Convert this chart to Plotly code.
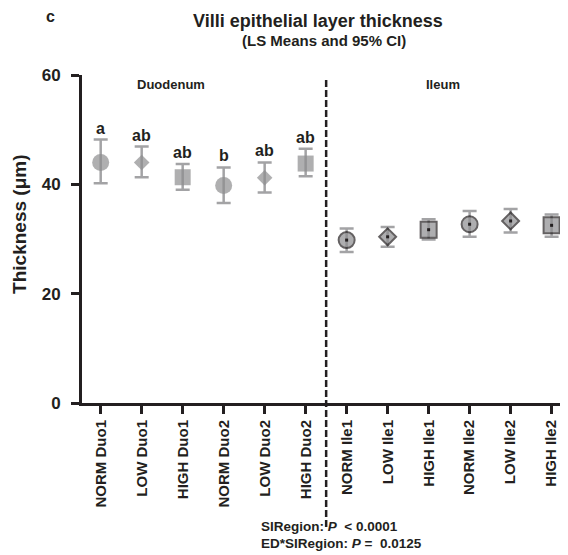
import plotly.graph_objects as go

categories = ["NORM Duo1", "LOW Duo1", "HIGH Duo1", "NORM Duo2", "LOW Duo2", "HIGH Duo2",
              "NORM Ile1", "LOW Ile1", "HIGH Ile1", "NORM Ile2", "LOW Ile2", "HIGH Ile2"]
means = [44.0, 44.0, 41.3, 39.8, 41.2, 43.8, 29.8, 30.4, 31.7, 32.7, 33.3, 32.5]
upper = [48.2, 46.9, 43.7, 43.1, 44.0, 46.5, 31.9, 32.2, 33.6, 35.1, 35.5, 34.5]
lower = [40.2, 41.3, 39.0, 36.6, 38.5, 41.5, 27.6, 28.6, 29.9, 30.4, 31.2, 30.4]
letters = ["a", "ab", "ab", "b", "ab", "ab"]
symbols = ["circle", "diamond", "square"] * 4

FONT = "Liberation Sans, Arial, sans-serif"
GRAY = "#8d8d8f"
EGRAY = "#a3a3a5"
BLACK = "#231f20"

fig = go.Figure()

duo = slice(0, 6)
ile = slice(6, 12)

def add_group(sl, outlined):
    x = categories[sl]
    m = means[sl]
    up = [u - v for u, v in zip(upper[sl], m)]
    dn = [v - l for v, l in zip(m, lower[sl])]
    sym = symbols[sl]
    sizes = [(17 if s == "circle" else 12 if s == "diamond" else 16) if not outlined
             else (16 if s == "circle" else 13 if s == "diamond" else 16) for s in sym]
    fig.add_trace(go.Scatter(
        x=x, y=m, mode="markers",
        marker=dict(symbol=sym, size=sizes, color=GRAY,
                    line=dict(color=BLACK, width=2 if outlined else 0)),
        error_y=dict(type="data", symmetric=False, array=up, arrayminus=dn,
                     color=EGRAY, thickness=2.5, width=7),
        showlegend=False, hoverinfo="skip"))
    if outlined:
        fig.add_trace(go.Scatter(
            x=x, y=m, mode="markers",
            marker=dict(symbol="square", size=3, color=BLACK, line=dict(width=0)),
            showlegend=False, hoverinfo="skip"))

add_group(duo, False)
add_group(ile, True)

# significance letters
for i, t in enumerate(letters):
    fig.add_annotation(x=categories[i], y=upper[i], text=t, showarrow=False,
                       xanchor="center", yanchor="bottom", yshift=1,
                       font=dict(family=FONT, size=16, color=BLACK, weight="bold"))

fig.add_annotation(x=1.71, y=58.2, text="Duodenum", showarrow=False,
                   xanchor="center", yanchor="middle",
                   font=dict(family=FONT, size=13, color=BLACK, weight="bold"))
fig.add_annotation(x=8.34, y=58.2, text="Ileum", showarrow=False,
                   xanchor="center", yanchor="middle",
                   font=dict(family=FONT, size=13, color=BLACK, weight="bold"))

# dashed divider
fig.add_shape(type="line", xref="x", yref="paper", x0=5.5, x1=5.5, y0=-0.378, y1=0.994,
              line=dict(color=BLACK, width=2.5, dash="7px,3px"))

def paper_text(x, y, text, size, **kw):
    fig.add_annotation(xref="paper", yref="paper", x=x, y=y, text=text, showarrow=False,
                       yanchor="middle", font=dict(family=FONT, size=size, color=BLACK, weight="bold"),
                       **kw)

# titles
paper_text(0.486, 1.165, "Villi epithelial layer thickness", 18, xanchor="center")
paper_text(0.497, 1.104, "(LS Means and 95% CI)", 15, xanchor="center")
paper_text(-0.064, 1.177, "c", 16, xanchor="center")
paper_text(-0.1276, 0.546, "Thickness (μm)", 19, xanchor="center", textangle=-90)
paper_text(0.364, -0.378, "SIRegion: <i>P</i>  < 0.0001", 13.5, xanchor="left")
paper_text(0.364, -0.427, "ED*SIRegion: <i>P</i> =  0.0125", 13.5, xanchor="left")

fig.update_layout(
    width=560, height=547,
    margin=dict(l=74, r=0, t=67, b=152),
    plot_bgcolor="white", paper_bgcolor="white",
    xaxis=dict(type="category", categoryorder="array", categoryarray=categories,
               range=[-0.456, 11.4], showgrid=False, zeroline=False,
               showline=True, linewidth=3, linecolor=BLACK,
               ticks="outside", ticklen=8, tickwidth=3, tickcolor=BLACK,
               tickangle=-90, tickfont=dict(family=FONT, size=15, color=BLACK, weight="bold")),
    yaxis=dict(range=[0, 60], tickvals=[0, 20, 40, 60], showgrid=False, zeroline=False,
               showline=True, linewidth=3, linecolor=BLACK,
               ticks="outside", ticklen=8, tickwidth=3, tickcolor=BLACK,
               ticklabelstandoff=7,
               tickfont=dict(family=FONT, size=17, color=BLACK, weight="bold")),
)

fig.write_html("out.html")
